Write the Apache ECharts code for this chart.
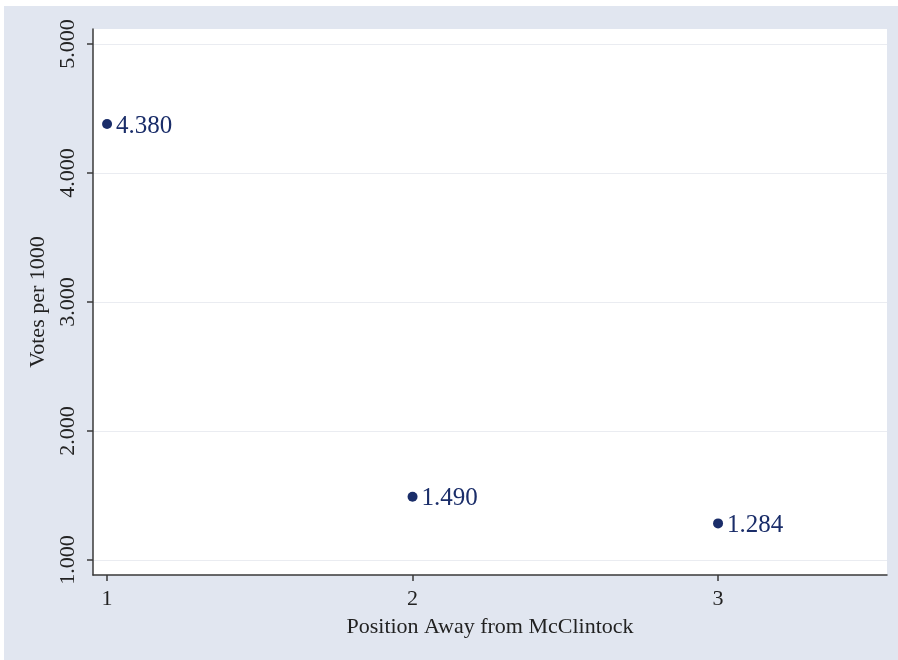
<!DOCTYPE html>
<html>
<head>
<meta charset="utf-8">
<script src="https://cdn.jsdelivr.net/npm/echarts@6/dist/echarts.min.js"></script>
<style>
  html, body { margin: 0; padding: 0; background: #ffffff; }
  #wrap { position: relative; width: 898px; height: 660px; background: #ffffff; }
  #bg { position: absolute; left: 4px; top: 6px; width: 894px; height: 654px; background: #e1e6f0; }
  #chart { position: absolute; left: 0; top: 0; width: 898px; height: 660px; }
</style>
</head>
<body>
<div id="wrap"><div id="bg"></div><div id="chart"></div></div>
<script>
const positions = [1, 2, 3];
const votesPer1000 = [4.380, 1.490, 1.284];
const xTicks = [1, 2, 3];
const yTicks = [1, 2, 3, 4, 5];

const navy = '#1a2d69';
const serif = '"Liberation Serif", "Times New Roman", serif';

const chart = echarts.init(document.getElementById('chart'), null, { renderer: 'canvas' });
chart.setOption({
  backgroundColor: 'transparent',
  animation: false,
  grid: {
    left: 93, top: 29, right: 11, bottom: 85,
    show: true, backgroundColor: '#ffffff', borderWidth: 0
  },
  xAxis: {
    type: 'value',
    min: 0.954, max: 3.553,
    name: 'Position Away from McClintock',
    nameLocation: 'middle',
    nameGap: 41,
    nameTextStyle: { fontFamily: serif, fontSize: 22, color: '#222', verticalAlign: 'top' },
    axisLine: { show: true, lineStyle: { color: '#3a3a3a', width: 1.5 } },
    axisTick: { show: true, length: 6, customValues: xTicks, lineStyle: { color: '#3a3a3a', width: 1.5 } },
    axisLabel: { customValues: xTicks, margin: 13, fontFamily: serif, fontSize: 22, color: '#222',
      formatter: v => String(v) },
    splitLine: { show: false }
  },
  yAxis: {
    type: 'value',
    min: 0.884, max: 5.116,
    name: 'Votes per 1000',
    nameLocation: 'middle',
    nameGap: 43,
    nameTextStyle: { fontFamily: serif, fontSize: 22, color: '#222' },
    axisLine: { show: true, lineStyle: { color: '#3a3a3a', width: 1.5 } },
    axisTick: { show: true, length: 6, customValues: yTicks, lineStyle: { color: '#3a3a3a', width: 1.5 } },
    axisLabel: { customValues: yTicks, rotate: 90, margin: 14, fontFamily: serif, fontSize: 22, color: '#222',
      formatter: v => v.toFixed(3) },
    splitLine: { show: true, lineStyle: { color: '#eaecf1', width: 1.2 } }
  },
  series: [{
    type: 'scatter',
    data: positions.map((p, i) => [p, votesPer1000[i]]),
    symbol: 'circle',
    symbolSize: 10,
    itemStyle: { color: navy, opacity: 1 },
    label: {
      show: true, position: 'right', distance: 4,
      fontFamily: serif, fontSize: 25, color: navy, offset: [0, 2],
      formatter: p => p.value[1].toFixed(3)
    }
  }]
});
</script>
</body>
</html>
